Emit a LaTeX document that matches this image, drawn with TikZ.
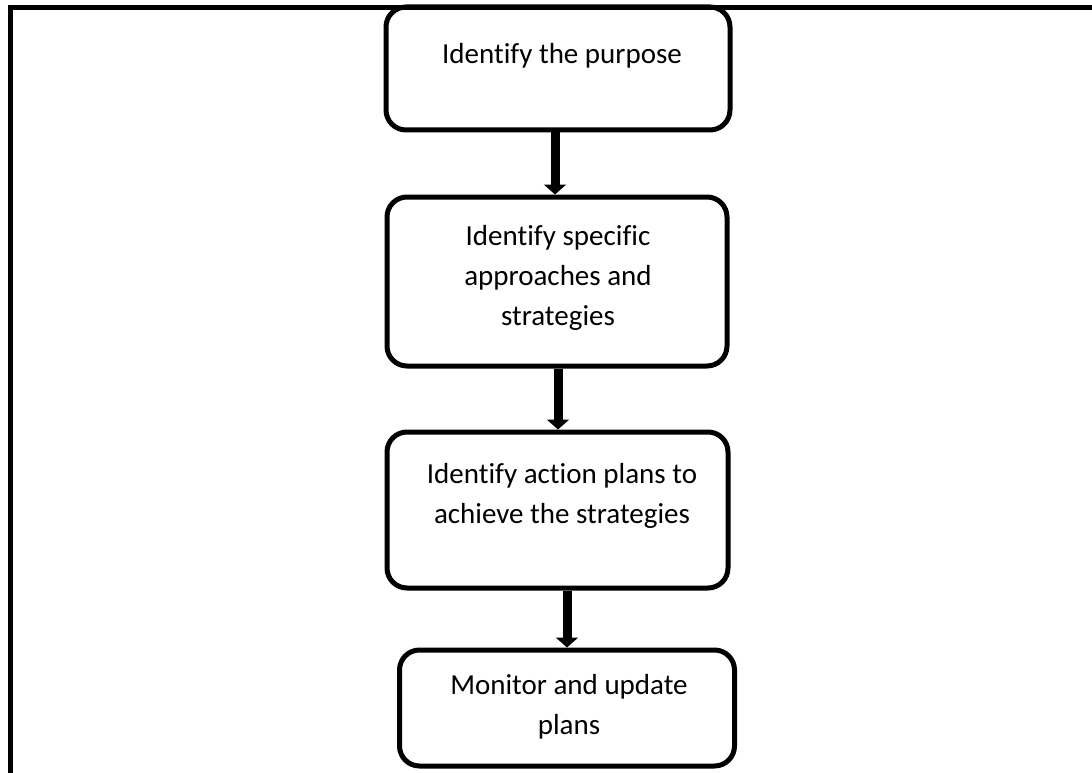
\documentclass[tikz,border=0pt]{standalone}
\usepackage{fontspec}
\setmainfont{Carlito}[Ligatures=NoCommon]
\usetikzlibrary{arrows.meta}
\begin{document}
\begin{tikzpicture}[x=1pt,y=-1pt,
  stepbox/.style={draw=black,line width=5pt,rounded corners=20pt,inner sep=0pt},
  steptext/.style={align=center,inner sep=0pt,font=\fontsize{29}{40}\selectfont},
  flow/.style={line width=9pt,-{Triangle[width=22pt,length=10pt]}}]
  \useasboundingbox (0,0) rectangle (1092,773);
  % outer frame, open towards the right and the bottom
  \draw[line width=5pt] (10.5,800) -- (10.5,7.5) -- (1100,7.5);
  % process boxes
  \node[stepbox,minimum width=344pt,minimum height=123pt] (b1) at (558,68.5) {};
  \node[stepbox,minimum width=340pt,minimum height=169pt] (b2) at (557,281.5) {};
  \node[stepbox,minimum width=341pt,minimum height=156pt] (b3) at (557.5,510) {};
  \node[stepbox,minimum width=335pt,minimum height=116pt] (b4) at (567,708) {};
  % box captions
  \node[steptext] (t1) at (562,56) {Identify the purpose};
  \node[steptext] (t2) at (558,278) {Identify specific\\approaches and\\strategies};
  \node[steptext] (t3) at (562,496) {Identify action plans to\\achieve the strategies};
  \node[steptext] (t4) at (569,707) {Monitor and update\\plans};
  % arrows between steps
  \draw[flow] ([xshift=-3pt]b1.south) -- ([xshift=-3pt]b1.south |- b2.north);
  \draw[flow] ([xshift=1pt]b2.south) -- ([xshift=1pt]b2.south |- b3.north);
  \draw[flow] (b3.south -| b4.north) -- (b4.north);
\end{tikzpicture}
\end{document}
